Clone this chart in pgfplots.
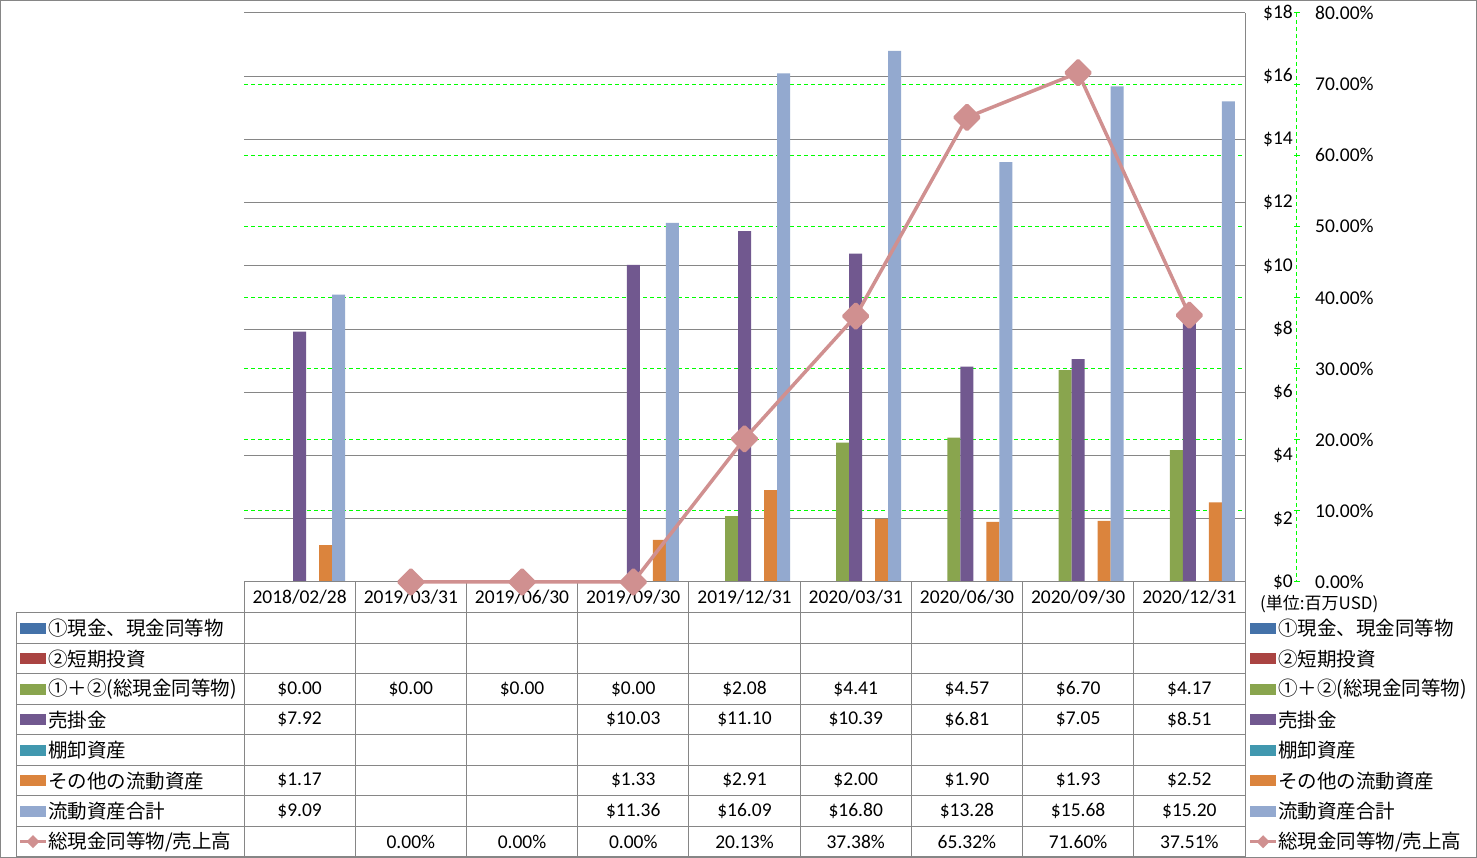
\documentclass[border=0pt]{standalone}
\usepackage{pgfplots}
\pgfplotsset{compat=1.18}
\usepackage{fontspec}
\setmainfont{Carlito}
\newfontfamily\jp{Noto Sans CJK JP}
\definecolor{cblue}{RGB}{68,114,169}
\definecolor{cred}{RGB}{170,68,66}
\definecolor{cgreen}{RGB}{137,165,78}
\definecolor{cpurple}{RGB}{113,88,143}
\definecolor{cteal}{RGB}{65,152,175}
\definecolor{corange}{RGB}{219,132,61}
\definecolor{clblue}{RGB}{147,169,207}
\definecolor{crose}{RGB}{208,144,144}
\definecolor{ggray}{RGB}{134,134,134}
\definecolor{lgreen}{RGB}{0,255,0}
\newcommand\fs{\fontsize{19.5pt}{23pt}\selectfont}
\pgfplotsset{common/.style={at={(244pt,276pt)}, anchor=south west, scale only axis,
  width=1001pt, height=569pt, xmin=-0.5, xmax=8.5, xtick=\empty,
  axis line style={draw=none}, major tick length=0pt, ytick style={draw=none},
  tick label style={font=\fs}, /pgf/number format/assume math mode=true, clip=false}}
\begin{document}
\begin{tikzpicture}[x=1pt,y=1pt]
\useasboundingbox (0,0) rectangle (1477,858);
\fill[white] (0,0) rectangle (1477,858);
% percent grid + labels
\begin{axis}[common, ymin=0, ymax=80, ytick={0,10,...,80}, ymajorgrids,
  major grid style={color=lgreen, dash pattern=on 4pt off 3pt, line width=1pt},
  yticklabel pos=right, yticklabel style={anchor=west, inner sep=0pt, xshift=70pt},
  yticklabel={\pgfmathprintnumber[fixed,fixed zerofill,precision=2]{\tick}\%}]
\addplot[draw=none] coordinates {(0,0)};
\end{axis}
% dollar axis with bars
\begin{axis}[common, ymin=0, ymax=18, ytick={0,2,...,18}, ymajorgrids,
  major grid style={color=ggray, line width=1pt},
  yticklabel pos=right, yticklabel style={anchor=east, inner sep=0pt, xshift=48pt},
  yticklabel={\$\pgfmathprintnumber{\tick}}]
\addplot[ybar, bar width=13pt, bar shift=-13pt, fill=cgreen, draw=none]
  coordinates {(0,0)(1,0)(2,0)(3,0)(4,2.08)(5,4.41)(6,4.57)(7,6.70)(8,4.17)};
\addplot[ybar, bar width=13pt, bar shift=0pt, fill=cpurple, draw=none]
  coordinates {(0,7.92)(3,10.03)(4,11.10)(5,10.39)(6,6.81)(7,7.05)(8,8.51)};
\addplot[ybar, bar width=13pt, bar shift=26pt, fill=corange, draw=none]
  coordinates {(0,1.17)(3,1.33)(4,2.91)(5,2.00)(6,1.90)(7,1.93)(8,2.52)};
\addplot[ybar, bar width=13pt, bar shift=39pt, fill=clblue, draw=none]
  coordinates {(0,9.09)(3,11.36)(4,16.09)(5,16.80)(6,13.28)(7,15.68)(8,15.20)};
\end{axis}
% table lines
\begin{scope}[draw=ggray, line width=1pt]
\draw (244,{858-582}) -- (1245,{858-582});
\foreach \i in {0,...,8} { \draw (16,{858-613-30.5*\i}) -- (1245,{858-613-30.5*\i}); }
\foreach \k in {0,...,9} { \draw ({244+111.222*\k},{858-582}) -- ({244+111.222*\k},1); }
\draw (16,{858-613}) -- (16,1);
\draw (1245,{858-13}) -- (1245,{858-582});
\draw (0.5,0.5) rectangle (1476.5,857.5);
\end{scope}
% percent axis line
\draw[lgreen, dash pattern=on 4pt off 3pt, line width=1pt] (1296,{858-13}) -- (1296,{858-582});
\foreach \j in {0,...,8} { \draw[lgreen, line width=1pt] (1294,{858-582+71.125*\j}) -- (1300,{858-582+71.125*\j}); }
\node[anchor=west, inner sep=0pt, font={\jp\fontsize{17pt}{19pt}\selectfont}] at (1260,{858-604}) {(単位:百万USD)};
% header
\foreach \t [count=\k from 0] in {2018/02/28,2019/03/31,2019/06/30,2019/09/30,2019/12/31,2020/03/31,2020/06/30,2020/09/30,2020/12/31}
  { \node[font=\fs, inner sep=0pt] at ({299.6+111.222*\k},{858-597.5}) {\t}; }
% legend keys & labels (left and right)
\foreach \r/\c/\l in {1/cblue/①現金、現金同等物, 2/cred/②短期投資, 3/cgreen/①＋②(総現金同等物), 4/cpurple/売掛金, 5/cteal/棚卸資産, 6/corange/その他の流動資産, 7/clblue/流動資産合計}
{
  \pgfmathsetmacro\yc{858-613-30.5*(\r-0.5)}
  \fill[\c] (20,\yc-5.5) rectangle (46,\yc+5.5);
  \node[anchor=west, inner sep=0pt, font={\jp\fs}] at (48,\yc) {\l};
  \fill[\c] (1250,\yc-5.5) rectangle (1276,\yc+5.5);
  \node[anchor=west, inner sep=0pt, font={\jp\fs}] at (1278,\yc) {\l};
}
\pgfmathsetmacro\yc{858-613-30.5*7.5}
\draw[crose, line width=3.5pt] (20,\yc) -- (46,\yc);
\fill[crose] (33,\yc-6.5) -- (39.5,\yc) -- (33,\yc+6.5) -- (26.5,\yc) -- cycle;
\node[anchor=west, inner sep=0pt, font={\jp\fs}] at (48,\yc) {総現金同等物/売上高};
\draw[crose, line width=3.5pt] (1250,\yc) -- (1276,\yc);
\fill[crose] (1263,\yc-6.5) -- (1269.5,\yc) -- (1263,\yc+6.5) -- (1256.5,\yc) -- cycle;
\node[anchor=west, inner sep=0pt, font={\jp\fs}] at (1278,\yc) {総現金同等物/売上高};
% cell values
\newcommand\rowvals[2]{%
  \foreach \v [count=\k from 0] in {#2}
    { \node[font=\fs, inner sep=0pt] at ({299.6+111.222*\k},{858-613-30.5*(#1-0.5)}) {\v}; }}
\rowvals{3}{\$0.00,\$0.00,\$0.00,\$0.00,\$2.08,\$4.41,\$4.57,\$6.70,\$4.17}
\rowvals{4}{\$7.92,{},{},\$10.03,\$11.10,\$10.39,\$6.81,\$7.05,\$8.51}
\rowvals{6}{\$1.17,{},{},\$1.33,\$2.91,\$2.00,\$1.90,\$1.93,\$2.52}
\rowvals{7}{\$9.09,{},{},\$11.36,\$16.09,\$16.80,\$13.28,\$15.68,\$15.20}
\rowvals{8}{{},0.00\%,0.00\%,0.00\%,20.13\%,37.38\%,65.32\%,71.60\%,37.51\%}
% ratio line
\begin{axis}[common, ymin=0, ymax=80, hide axis]
\addplot[color=crose, line width=3.5pt, line join=round, mark=square*, mark size=8.5pt,
  mark options={rotate=45, fill=crose, draw=none, solid}]
  coordinates {(1,0)(2,0)(3,0)(4,20.13)(5,37.38)(6,65.32)(7,71.60)(8,37.51)};
\end{axis}
\end{tikzpicture}
\end{document}
